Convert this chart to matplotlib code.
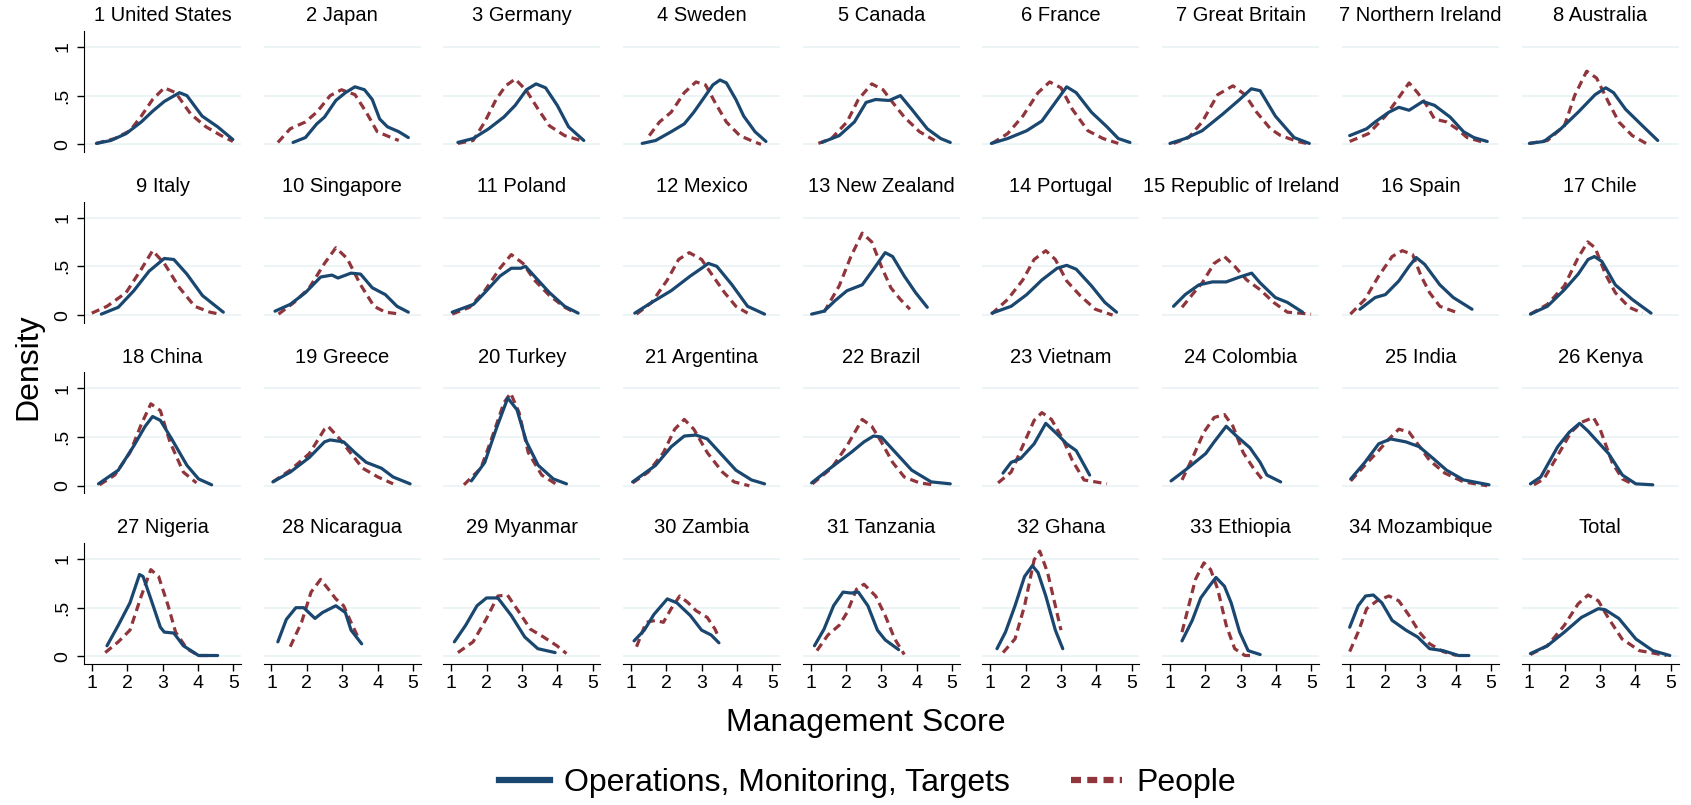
import matplotlib
matplotlib.use("Agg")
import matplotlib.pyplot as plt
from matplotlib.lines import Line2D

plt.rcParams['font.family'] = ['Liberation Sans', 'DejaVu Sans']

titles = ["1 United States", "2 Japan", "3 Germany", "4 Sweden", "5 Canada", "6 France",
          "7 Great Britain", "7 Northern Ireland", "8 Australia",
          "9 Italy", "10 Singapore", "11 Poland", "12 Mexico", "13 New Zealand", "14 Portugal",
          "15 Republic of Ireland", "16 Spain", "17 Chile",
          "18 China", "19 Greece", "20 Turkey", "21 Argentina", "22 Brazil", "23 Vietnam",
          "24 Colombia", "25 India", "26 Kenya",
          "27 Nigeria", "28 Nicaragua", "29 Myanmar", "30 Zambia", "31 Tanzania", "32 Ghana",
          "33 Ethiopia", "34 Mozambique", "Total"]

# Operations, Monitoring, Targets (solid)
ops_x = [
    [1.13, 1.54, 1.97, 2.40, 2.72, 3.05, 3.48, 3.69, 4.12, 4.56, 4.99],
    [1.61, 1.96, 2.28, 2.50, 2.82, 3.09, 3.36, 3.63, 3.85, 4.06, 4.28, 4.60, 4.87],
    [1.19, 1.62, 2.06, 2.49, 2.81, 3.13, 3.40, 3.67, 4.00, 4.32, 4.75],
    [1.32, 1.70, 2.14, 2.51, 2.78, 3.11, 3.32, 3.52, 3.70, 3.97, 4.19, 4.51, 4.82],
    [1.32, 1.81, 2.24, 2.57, 2.84, 3.22, 3.54, 3.86, 4.30, 4.68, 4.95],
    [1.03, 1.49, 2.03, 2.46, 2.84, 3.16, 3.43, 3.86, 4.30, 4.62, 4.95],
    [1.00, 1.43, 1.91, 2.49, 2.97, 3.30, 3.55, 3.98, 4.51, 4.94],
    [1.00, 1.48, 1.72, 2.11, 2.39, 2.68, 3.07, 3.40, 3.84, 4.22, 4.51, 4.89],
    [1.00, 1.41, 1.89, 2.38, 2.86, 3.16, 3.38, 3.72, 4.20, 4.63],
    [1.27, 1.75, 2.19, 2.62, 3.05, 3.32, 3.69, 4.13, 4.72],
    [1.10, 1.53, 1.96, 2.39, 2.71, 2.88, 3.25, 3.52, 3.85, 4.22, 4.55, 4.87],
    [1.03, 1.63, 1.95, 2.38, 2.70, 2.97, 3.10, 3.35, 3.78, 4.21, 4.59],
    [1.11, 1.59, 2.14, 2.68, 3.00, 3.19, 3.43, 3.86, 4.30, 4.78],
    [1.03, 1.38, 1.70, 2.03, 2.46, 2.78, 3.11, 3.32, 3.65, 3.97, 4.30],
    [1.05, 1.59, 2.03, 2.46, 2.89, 3.16, 3.43, 3.86, 4.24, 4.57],
    [1.10, 1.43, 1.82, 2.20, 2.59, 2.97, 3.31, 3.55, 3.98, 4.32, 4.75],
    [1.29, 1.72, 2.01, 2.39, 2.68, 2.88, 3.12, 3.55, 3.93, 4.46],
    [1.03, 1.51, 1.99, 2.38, 2.66, 2.84, 3.05, 3.43, 3.91, 4.44],
    [1.19, 1.75, 2.19, 2.51, 2.72, 2.94, 3.26, 3.69, 4.02, 4.39],
    [1.04, 1.53, 2.07, 2.50, 2.66, 3.04, 3.36, 3.68, 4.11, 4.44, 4.92],
    [1.57, 1.95, 2.27, 2.60, 2.86, 3.13, 3.46, 3.89, 4.26],
    [1.05, 1.70, 2.14, 2.51, 2.84, 3.16, 3.54, 3.97, 4.41, 4.78],
    [1.03, 1.59, 2.14, 2.51, 2.78, 3.00, 3.43, 3.86, 4.41, 4.95],
    [1.36, 1.59, 1.86, 2.24, 2.57, 2.89, 3.16, 3.43, 3.81],
    [1.03, 1.43, 2.01, 2.25, 2.59, 2.88, 3.26, 3.55, 3.74, 4.13],
    [1.03, 1.43, 1.82, 2.16, 2.59, 2.97, 3.36, 3.74, 4.22, 4.94],
    [1.03, 1.32, 1.80, 2.13, 2.42, 2.66, 2.86, 3.24, 3.63, 4.01, 4.49],
    [1.43, 1.75, 2.08, 2.35, 2.45, 2.67, 2.94, 3.05, 3.32, 3.59, 4.02, 4.56],
    [1.18, 1.42, 1.69, 1.91, 2.23, 2.44, 2.82, 3.09, 3.25, 3.55],
    [1.09, 1.41, 1.73, 2.00, 2.32, 2.70, 3.08, 3.45, 3.94],
    [1.09, 1.38, 1.65, 2.03, 2.30, 2.68, 3.00, 3.27, 3.49],
    [1.11, 1.38, 1.65, 1.92, 2.14, 2.35, 2.62, 2.89, 3.11, 3.49],
    [1.19, 1.43, 1.70, 1.97, 2.19, 2.35, 2.57, 2.84, 3.05],
    [1.34, 1.63, 1.87, 2.11, 2.30, 2.54, 2.73, 2.97, 3.21, 3.55],
    [1.00, 1.24, 1.45, 1.67, 1.91, 2.20, 2.59, 2.92, 3.26, 3.64, 4.08, 4.37],
    [1.03, 1.51, 1.99, 2.47, 2.95, 3.14, 3.53, 4.01, 4.49, 4.97],
]
ops_y = [
    [.01, .04, .11, .23, .34, .44, .53, .50, .29, .18, .05],
    [.02, .07, .21, .28, .45, .53, .59, .56, .46, .26, .18, .13, .07],
    [.02, .06, .16, .28, .40, .56, .62, .58, .40, .18, .04],
    [.01, .04, .13, .21, .33, .50, .61, .66, .63, .46, .29, .13, .03],
    [.02, .09, .23, .43, .46, .45, .50, .36, .16, .06, .02],
    [.01, .06, .14, .24, .43, .59, .53, .33, .18, .06, .02],
    [.01, .06, .14, .31, .46, .57, .55, .29, .07, .01],
    [.09, .16, .23, .33, .38, .35, .44, .40, .28, .13, .07, .03],
    [.01, .03, .16, .33, .51, .58, .53, .36, .19, .04],
    [.01, .08, .25, .45, .58, .57, .42, .20, .03],
    [.04, .11, .23, .39, .41, .38, .43, .42, .28, .21, .09, .03],
    [.03, .11, .23, .40, .48, .48, .50, .40, .23, .09, .02],
    [.02, .13, .25, .40, .48, .53, .50, .31, .09, .01],
    [.01, .04, .15, .25, .31, .47, .64, .60, .40, .23, .08],
    [.02, .09, .21, .36, .48, .51, .47, .30, .13, .03],
    [.09, .21, .31, .34, .34, .39, .43, .33, .18, .13, .03],
    [.06, .18, .21, .35, .50, .59, .52, .31, .18, .06],
    [.01, .09, .26, .42, .57, .60, .55, .31, .16, .02],
    [.02, .16, .41, .61, .71, .67, .48, .21, .07, .01],
    [.04, .14, .29, .45, .47, .45, .34, .24, .18, .09, .02],
    [.05, .24, .58, .90, .78, .45, .21, .07, .02],
    [.04, .21, .40, .51, .52, .48, .33, .16, .06, .02],
    [.03, .19, .34, .45, .51, .50, .33, .16, .04, .02],
    [.13, .24, .28, .43, .64, .53, .43, .36, .11],
    [.05, .16, .33, .45, .61, .51, .39, .24, .11, .04],
    [.07, .24, .43, .48, .45, .40, .28, .16, .06, .01],
    [.02, .09, .40, .55, .64, .56, .48, .33, .11, .02, .01],
    [.11, .32, .55, .84, .82, .59, .30, .25, .24, .11, .01, .01],
    [.15, .38, .50, .50, .39, .45, .52, .45, .27, .13],
    [.15, .32, .52, .60, .60, .42, .20, .08, .04],
    [.16, .27, .43, .59, .55, .42, .27, .22, .14],
    [.11, .28, .52, .66, .65, .66, .52, .27, .17, .07],
    [.08, .25, .52, .82, .93, .86, .62, .27, .08],
    [.16, .37, .60, .72, .81, .72, .55, .25, .06, .02],
    [.30, .52, .62, .63, .55, .37, .27, .20, .08, .06, .01, .01],
    [.03, .11, .25, .40, .49, .48, .39, .18, .06, .01],
]

# People (dashed)
ppl_x = [
    [1.13, 1.65, 2.08, 2.40, 2.72, 3.05, 3.37, 3.80, 4.23, 4.66, 4.99],
    [1.18, 1.53, 1.96, 2.28, 2.66, 2.98, 3.36, 3.68, 3.99, 4.32, 4.60],
    [1.19, 1.62, 1.95, 2.27, 2.54, 2.81, 3.13, 3.46, 3.78, 4.21, 4.75],
    [1.52, 1.81, 2.14, 2.51, 2.84, 3.11, 3.38, 3.70, 4.08, 4.46, 4.68],
    [1.22, 1.59, 2.03, 2.35, 2.73, 3.05, 3.32, 3.65, 4.08, 4.51],
    [1.05, 1.49, 1.92, 2.35, 2.68, 3.00, 3.32, 3.76, 4.19, 4.62],
    [1.10, 1.53, 1.91, 2.35, 2.78, 3.12, 3.45, 3.84, 4.13, 4.61, 4.99],
    [1.00, 1.53, 2.01, 2.35, 2.68, 2.92, 3.16, 3.40, 3.74, 4.03, 4.32, 4.80],
    [1.00, 1.51, 1.99, 2.28, 2.62, 2.90, 3.24, 3.53, 3.91, 4.30],
    [1.00, 1.43, 1.97, 2.40, 2.72, 3.05, 3.48, 3.91, 4.34, 4.61],
    [1.20, 1.64, 2.07, 2.50, 2.82, 3.14, 3.52, 3.90, 4.22, 4.65],
    [1.03, 1.52, 1.95, 2.38, 2.70, 3.03, 3.35, 3.78, 4.21, 4.53],
    [1.16, 1.59, 2.03, 2.35, 2.65, 3.00, 3.32, 3.65, 3.97, 4.30],
    [1.38, 1.81, 2.14, 2.46, 2.73, 3.00, 3.27, 3.54, 3.81],
    [1.03, 1.49, 1.92, 2.24, 2.57, 2.84, 3.16, 3.54, 3.97, 4.46],
    [1.34, 1.63, 1.91, 2.25, 2.54, 2.83, 3.17, 3.55, 3.93, 4.32, 4.99],
    [1.02, 1.43, 1.82, 2.20, 2.49, 2.78, 3.02, 3.26, 3.55, 4.08],
    [1.03, 1.51, 1.99, 2.38, 2.65, 2.86, 3.15, 3.43, 3.82, 4.20],
    [1.22, 1.65, 2.08, 2.40, 2.67, 2.94, 3.21, 3.59, 3.96],
    [1.04, 1.53, 2.07, 2.50, 2.60, 2.93, 3.25, 3.58, 4.01, 4.44],
    [1.36, 1.84, 2.17, 2.49, 2.68, 2.92, 3.18, 3.56, 4.00],
    [1.05, 1.49, 1.92, 2.24, 2.51, 2.78, 3.16, 3.59, 3.92, 4.35],
    [1.05, 1.59, 2.03, 2.46, 2.73, 3.00, 3.32, 3.65, 4.08, 4.46],
    [1.22, 1.59, 1.92, 2.24, 2.46, 2.73, 3.05, 3.32, 3.65, 4.30],
    [1.34, 1.63, 1.96, 2.25, 2.54, 2.78, 3.07, 3.36, 3.60],
    [1.03, 1.43, 1.82, 2.11, 2.39, 2.68, 2.92, 3.26, 3.69, 4.22, 4.89],
    [1.13, 1.41, 1.80, 2.18, 2.47, 2.81, 3.00, 3.34, 3.63, 3.91],
    [1.38, 1.75, 2.08, 2.40, 2.67, 2.89, 3.16, 3.37, 3.69, 4.02, 4.45],
    [1.53, 1.85, 2.12, 2.39, 2.61, 2.82, 3.04, 3.25, 3.47],
    [1.19, 1.62, 2.00, 2.32, 2.59, 2.91, 3.24, 3.61, 3.99, 4.26],
    [1.16, 1.43, 1.70, 1.92, 2.14, 2.38, 2.62, 2.84, 3.16, 3.38, 3.49],
    [1.18, 1.49, 1.81, 2.03, 2.30, 2.51, 2.84, 3.11, 3.38, 3.65],
    [1.36, 1.70, 1.97, 2.24, 2.40, 2.62, 2.84, 3.00],
    [1.34, 1.53, 1.72, 1.96, 2.15, 2.35, 2.59, 2.83, 3.12, 3.31],
    [1.00, 1.24, 1.48, 1.77, 2.11, 2.39, 2.68, 2.97, 3.26, 3.64, 4.03],
    [1.03, 1.51, 1.99, 2.38, 2.66, 2.95, 3.24, 3.62, 4.11, 4.88],
]
ppl_y = [
    [.01, .06, .14, .29, .46, .58, .53, .31, .18, .09, .03],
    [.02, .16, .23, .33, .50, .56, .51, .33, .13, .08, .04],
    [.01, .04, .23, .46, .60, .67, .55, .36, .19, .09, .03],
    [.09, .23, .33, .53, .64, .61, .43, .23, .09, .03, .00],
    [.01, .06, .23, .46, .62, .56, .43, .28, .13, .04],
    [.01, .11, .29, .53, .64, .58, .36, .14, .06, .01],
    [.01, .07, .23, .51, .60, .51, .33, .16, .09, .03, .00],
    [.03, .11, .29, .46, .63, .53, .41, .26, .23, .16, .07, .02],
    [.01, .04, .19, .50, .75, .68, .43, .23, .09, .01],
    [.02, .09, .23, .47, .66, .53, .28, .09, .03, .01],
    [.01, .13, .28, .53, .69, .58, .31, .09, .03, .01],
    [.01, .08, .25, .48, .62, .53, .36, .20, .08, .02],
    [.01, .13, .36, .57, .64, .57, .40, .23, .09, .02],
    [.03, .30, .60, .84, .75, .50, .28, .16, .06],
    [.01, .16, .36, .57, .66, .57, .35, .20, .06, .00],
    [.08, .21, .33, .53, .60, .50, .36, .26, .13, .03, .01],
    [.01, .16, .40, .60, .66, .62, .40, .23, .09, .02],
    [.01, .11, .30, .59, .75, .69, .42, .23, .08, .02],
    [.01, .11, .34, .63, .84, .77, .45, .14, .03],
    [.04, .16, .33, .58, .61, .48, .33, .18, .09, .02],
    [.01, .18, .51, .85, .95, .75, .34, .11, .01],
    [.03, .14, .34, .58, .68, .58, .34, .14, .04, .00],
    [.02, .18, .41, .68, .61, .45, .24, .09, .03, .01],
    [.03, .14, .41, .67, .75, .68, .48, .26, .06, .02],
    [.06, .28, .55, .70, .73, .61, .34, .18, .07],
    [.05, .21, .36, .48, .58, .55, .43, .26, .13, .04, .00],
    [.01, .07, .31, .55, .65, .70, .58, .24, .07, .02],
    [.04, .15, .27, .62, .89, .82, .52, .25, .08, .01, .01],
    [.10, .35, .66, .79, .69, .59, .52, .35, .18],
    [.04, .15, .39, .62, .63, .46, .28, .20, .11, .03],
    [.10, .35, .37, .35, .49, .62, .55, .47, .40, .28, .19],
    [.06, .22, .32, .45, .69, .74, .62, .42, .18, .02],
    [.04, .18, .52, .99, 1.08, .86, .52, .27],
    [.25, .52, .79, .96, .89, .69, .32, .08, .01, .01],
    [.05, .25, .49, .57, .62, .57, .42, .25, .13, .05, .01],
    [.02, .11, .32, .54, .63, .57, .39, .18, .06, .01],
]

x_ticks = [1, 2, 3, 4, 5]
y_ticks = [0, 0.5, 1]
y_tick_labels = ["0", ".5", "1"]

blue = "#1a476f"
red = "#90353b"
grid_c = "#eaf2f3"

W, H = 1691, 805
fig = plt.figure(figsize=(W / 100, H / 100), dpi=100)

ncol, nrow = 9, 4
ax_w, ax_h = 157, 121
col_step, row_step = 179.7, 170.7
left0, bottom0 = 84, 152

for i, title in enumerate(titles):
    r, c = divmod(i, ncol)
    left = left0 + c * col_step
    bottom = bottom0 + r * row_step
    ax = fig.add_axes([left / W, 1 - bottom / H, ax_w / W, ax_h / H])
    ax.set_xlim(0.78, 5.22)
    ax.set_ylim(-0.078, 1.162)
    for g in y_ticks:
        ax.axhline(g, color=grid_c, lw=1.2, zorder=0)
    ax.plot(ops_x[i], ops_y[i], color=blue, lw=2.3, solid_joinstyle='round',
            solid_capstyle='round', zorder=3)
    ax.plot(ppl_x[i], ppl_y[i], color=red, lw=2.3, dashes=(2.6, 1.6), zorder=2)
    ax.set_title(title, fontsize=14.5, pad=7)
    for s in ['top', 'right']:
        ax.spines[s].set_visible(False)
    ax.spines['left'].set_visible(c == 0)
    ax.spines['bottom'].set_visible(r == nrow - 1)
    if c == 0:
        ax.set_yticks(y_ticks)
        ax.set_yticklabels(y_tick_labels, rotation=90, va='center', fontsize=14)
        ax.tick_params(axis='y', length=5, width=1, pad=4)
    else:
        ax.set_yticks([])
    if r == nrow - 1:
        ax.set_xticks(x_ticks)
        ax.tick_params(axis='x', length=5, width=1, pad=3, labelsize=14)
    else:
        ax.set_xticks([])

fig.text(0.017, 0.545, "Density", rotation=90, ha='center', va='center', fontsize=23)
fig.text(0.512, 0.102, "Management Score", ha='center', va='center', fontsize=23)

handles = [Line2D([], [], color=blue, lw=4.5),
           Line2D([], [], color=red, lw=4.5, dashes=(1.6, 1.0))]
fig.legend(handles, ["Operations, Monitoring, Targets", "People"], loc='center',
           bbox_to_anchor=(0.513, 0.027), ncol=2, frameon=False, fontsize=23,
           handlelength=1.6, handletextpad=0.45, columnspacing=1.9)

fig.savefig("out.png", dpi=100)
